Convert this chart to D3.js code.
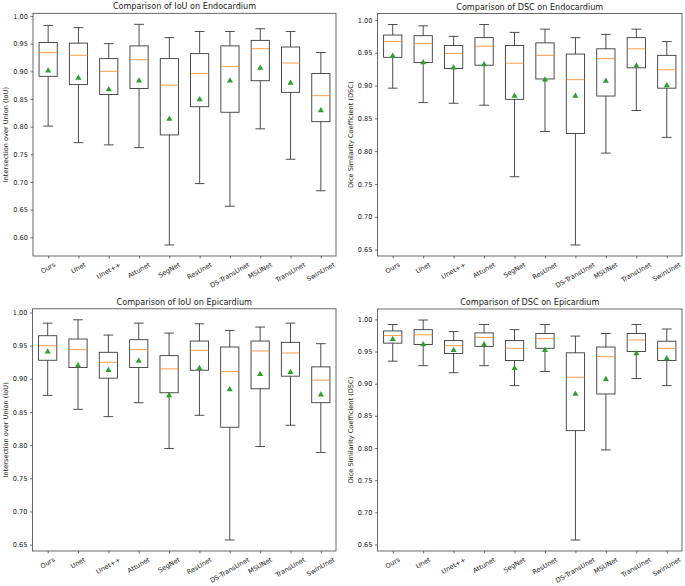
<!DOCTYPE html>
<html>
<head>
<meta charset="utf-8">
<script src="https://cdn.jsdelivr.net/npm/d3@7"></script>
<style>
  html, body { margin: 0; padding: 0; background: #fff; }
  svg text { font-family: "DejaVu Sans", sans-serif; fill: #222; }
</style>
</head>
<body>
<svg id="chart" width="685" height="586"></svg>
<script>
// ---------- DATA ----------
const categories = ["Ours", "Unet", "Unet++", "Attunet", "SegNet", "ResUnet", "DS-TransUnet", "MSUNet", "TransUnet", "SwinUnet"];

// IoU on Endocardium
const iouEndoLow  = [0.801, 0.771, 0.767, 0.762, 0.586, 0.697, 0.656, 0.796, 0.741, 0.684];
const iouEndoQ1   = [0.891, 0.876, 0.858, 0.869, 0.785, 0.836, 0.826, 0.883, 0.862, 0.809];
const iouEndoMed  = [0.934, 0.929, 0.900, 0.921, 0.875, 0.896, 0.909, 0.941, 0.915, 0.856];
const iouEndoQ3   = [0.952, 0.951, 0.923, 0.946, 0.923, 0.932, 0.946, 0.956, 0.944, 0.896];
const iouEndoHigh = [0.983, 0.979, 0.950, 0.985, 0.961, 0.972, 0.972, 0.977, 0.972, 0.934];
const iouEndoMean = [0.901, 0.888, 0.867, 0.883, 0.814, 0.849, 0.883, 0.906, 0.879, 0.829];

// DSC on Endocardium
const dscEndoLow  = [0.896, 0.874, 0.873, 0.870, 0.761, 0.830, 0.657, 0.797, 0.862, 0.821];
const dscEndoQ1   = [0.943, 0.935, 0.926, 0.931, 0.879, 0.910, 0.827, 0.884, 0.927, 0.896];
const dscEndoMed  = [0.967, 0.964, 0.949, 0.960, 0.934, 0.946, 0.909, 0.941, 0.956, 0.924];
const dscEndoQ3   = [0.977, 0.976, 0.961, 0.973, 0.961, 0.965, 0.948, 0.956, 0.973, 0.946];
const dscEndoHigh = [0.993, 0.991, 0.975, 0.993, 0.981, 0.986, 0.973, 0.978, 0.986, 0.967];
const dscEndoMean = [0.945, 0.935, 0.927, 0.932, 0.884, 0.909, 0.884, 0.907, 0.930, 0.900];

// IoU on Epicardium
const iouEpiLow  = [0.875, 0.854, 0.843, 0.864, 0.795, 0.845, 0.657, 0.798, 0.830, 0.789];
const iouEpiQ1   = [0.928, 0.917, 0.901, 0.917, 0.879, 0.913, 0.827, 0.885, 0.904, 0.864];
const iouEpiMed  = [0.950, 0.944, 0.925, 0.944, 0.915, 0.943, 0.911, 0.942, 0.939, 0.898];
const iouEpiQ3   = [0.965, 0.960, 0.940, 0.959, 0.935, 0.957, 0.948, 0.957, 0.955, 0.918];
const iouEpiHigh = [0.984, 0.989, 0.966, 0.984, 0.969, 0.983, 0.973, 0.978, 0.984, 0.953];
const iouEpiMean = [0.941, 0.920, 0.913, 0.927, 0.875, 0.916, 0.884, 0.907, 0.910, 0.876];

// DSC on Epicardium
const dscEpiLow  = [0.935, 0.928, 0.917, 0.928, 0.897, 0.919, 0.657, 0.797, 0.908, 0.897];
const dscEpiQ1   = [0.963, 0.961, 0.947, 0.958, 0.936, 0.955, 0.827, 0.884, 0.950, 0.936];
const dscEpiMed  = [0.975, 0.976, 0.959, 0.972, 0.955, 0.970, 0.910, 0.942, 0.968, 0.955];
const dscEpiQ3   = [0.982, 0.984, 0.967, 0.979, 0.967, 0.978, 0.948, 0.957, 0.978, 0.966];
const dscEpiHigh = [0.992, 0.999, 0.981, 0.992, 0.984, 0.992, 0.974, 0.978, 0.992, 0.985];
const dscEpiMean = [0.969, 0.961, 0.952, 0.961, 0.924, 0.952, 0.884, 0.907, 0.947, 0.939];

const titles = ["Comparison of IoU on Endocardium", "Comparison of DSC on Endocardium",
                "Comparison of IoU on Epicardium", "Comparison of DSC on Epicardium"];
const yLabels = ["Intersection over Union (IoU)", "Dice Similarity Coefficient (DSC)",
                 "Intersection over Union (IoU)", "Dice Similarity Coefficient (DSC)"];

// ---------- LAYOUT ----------
const panels = [
  { title: titles[0], ylabel: yLabels[0], low: iouEndoLow, q1: iouEndoQ1, med: iouEndoMed, q3: iouEndoQ3, high: iouEndoHigh, mean: iouEndoMean,
    left: 33, right: 336, top: 13.3, bottom: 256, ylabelX: 6 },
  { title: titles[1], ylabel: yLabels[1], low: dscEndoLow, q1: dscEndoQ1, med: dscEndoMed, q3: dscEndoQ3, high: dscEndoHigh, mean: dscEndoMean,
    left: 377.5, right: 682, top: 13.5, bottom: 256, ylabelX: 351 },
  { title: titles[2], ylabel: yLabels[2], low: iouEpiLow, q1: iouEpiQ1, med: iouEpiMed, q3: iouEpiQ3, high: iouEpiHigh, mean: iouEpiMean,
    left: 32.5, right: 336, top: 308.8, bottom: 551, ylabelX: 6 },
  { title: titles[3], ylabel: yLabels[3], low: dscEpiLow, q1: dscEpiQ1, med: dscEpiMed, q3: dscEpiQ3, high: dscEpiHigh, mean: dscEpiMean,
    left: 377.5, right: 682, top: 309, bottom: 551, ylabelX: 351 }
];

const svg = d3.select("#chart");
const tickFont = 6.6;
const lineColor = "#3a3a3a";
const medianColor = "#ff7f0e";
const meanColor = "#2ca02c";
const rot = 30;

panels.forEach(p => {
  const g = svg.append("g");
  const lo = d3.min(p.low), hi = d3.max(p.high);
  const pad = (hi - lo) * 0.05;
  const y = d3.scaleLinear().domain([lo - pad, hi + pad]).range([p.bottom, p.top]);
  const x = d3.scaleLinear().domain([0.5, categories.length + 0.5]).range([p.left, p.right]);
  const boxW = 0.6, capW = 0.32;

  // y axis
  const yTicks = d3.range(Math.ceil((lo - pad) / 0.05 - 1e-9) * 0.05, hi + pad + 1e-9, 0.05);
  const yAxis = d3.axisLeft(y).tickValues(yTicks).tickFormat(d3.format(".2f")).tickSize(2.4).tickPadding(2.6);
  const ya = g.append("g").attr("transform", `translate(${p.left},0)`).call(yAxis);
  ya.select(".domain").remove();
  ya.selectAll(".tick line").attr("stroke", "#444").attr("stroke-width", 0.8);
  ya.selectAll(".tick text").attr("font-size", tickFont).attr("fill", "#222").style("font-family", "DejaVu Sans");

  // x axis ticks
  const xa = g.append("g").attr("transform", `translate(0,${p.bottom})`)
    .call(d3.axisBottom(x).tickValues(d3.range(1, categories.length + 1)).tickSize(2.4).tickFormat(""));
  xa.select(".domain").remove();
  xa.selectAll(".tick line").attr("stroke", "#444").attr("stroke-width", 0.8);

  // rotated x labels (centered bbox, like matplotlib ha='center')
  const a = rot * Math.PI / 180;
  categories.forEach((c, i) => {
    const t = g.append("text")
      .attr("font-size", tickFont)
      .attr("text-anchor", "middle")
      .attr("dominant-baseline", "central")
      .text(c);
    const w = t.node().getComputedTextLength();
    const h = tickFont * 1.1;
    const bh = w * Math.sin(a) + h * Math.cos(a);
    const cy = p.bottom + 5 + bh / 2;
    t.attr("transform", `translate(${x(i + 1)},${cy}) rotate(${-rot})`);
  });

  // whiskers, caps, boxes, medians, means
  categories.forEach((c, i) => {
    const cx = x(i + 1);
    const bx0 = x(i + 1 - boxW / 2), bx1 = x(i + 1 + boxW / 2);
    const cx0 = x(i + 1 - capW / 2), cx1 = x(i + 1 + capW / 2);
    // whiskers
    g.append("line").attr("x1", cx).attr("x2", cx).attr("y1", y(p.q3[i])).attr("y2", y(p.high[i]))
      .attr("stroke", lineColor).attr("stroke-width", 0.9);
    g.append("line").attr("x1", cx).attr("x2", cx).attr("y1", y(p.q1[i])).attr("y2", y(p.low[i]))
      .attr("stroke", lineColor).attr("stroke-width", 0.9);
    // caps
    g.append("line").attr("x1", cx0).attr("x2", cx1).attr("y1", y(p.high[i])).attr("y2", y(p.high[i]))
      .attr("stroke", lineColor).attr("stroke-width", 0.9);
    g.append("line").attr("x1", cx0).attr("x2", cx1).attr("y1", y(p.low[i])).attr("y2", y(p.low[i]))
      .attr("stroke", lineColor).attr("stroke-width", 0.9);
    // box
    g.append("rect").attr("x", bx0).attr("width", bx1 - bx0)
      .attr("y", y(p.q3[i])).attr("height", y(p.q1[i]) - y(p.q3[i]))
      .attr("fill", "none").attr("stroke", lineColor).attr("stroke-width", 0.9);
    // median
    g.append("line").attr("x1", bx0).attr("x2", bx1).attr("y1", y(p.med[i])).attr("y2", y(p.med[i]))
      .attr("stroke", medianColor).attr("stroke-width", 0.9).attr("stroke-opacity", 0.85);
    // mean
    g.append("path").attr("d", d3.symbol().type(d3.symbolTriangle).size(16)())
      .attr("transform", `translate(${cx},${y(p.mean[i])})`)
      .attr("fill", meanColor);
  });

  // spines
  g.append("rect").attr("x", p.left).attr("y", p.top).attr("width", p.right - p.left).attr("height", p.bottom - p.top)
    .attr("fill", "none").attr("stroke", "#444").attr("stroke-width", 0.8);

  // title
  g.append("text").attr("x", (p.left + p.right) / 2).attr("y", p.top - 4)
    .attr("text-anchor", "middle").attr("font-size", 8.1).text(p.title);

  // y label
  g.append("text").attr("transform", `translate(${p.ylabelX},${(p.top + p.bottom) / 2}) rotate(-90)`)
    .attr("text-anchor", "middle").attr("dominant-baseline", "central").attr("font-size", tickFont).text(p.ylabel);
});
</script>
</body>
</html>
